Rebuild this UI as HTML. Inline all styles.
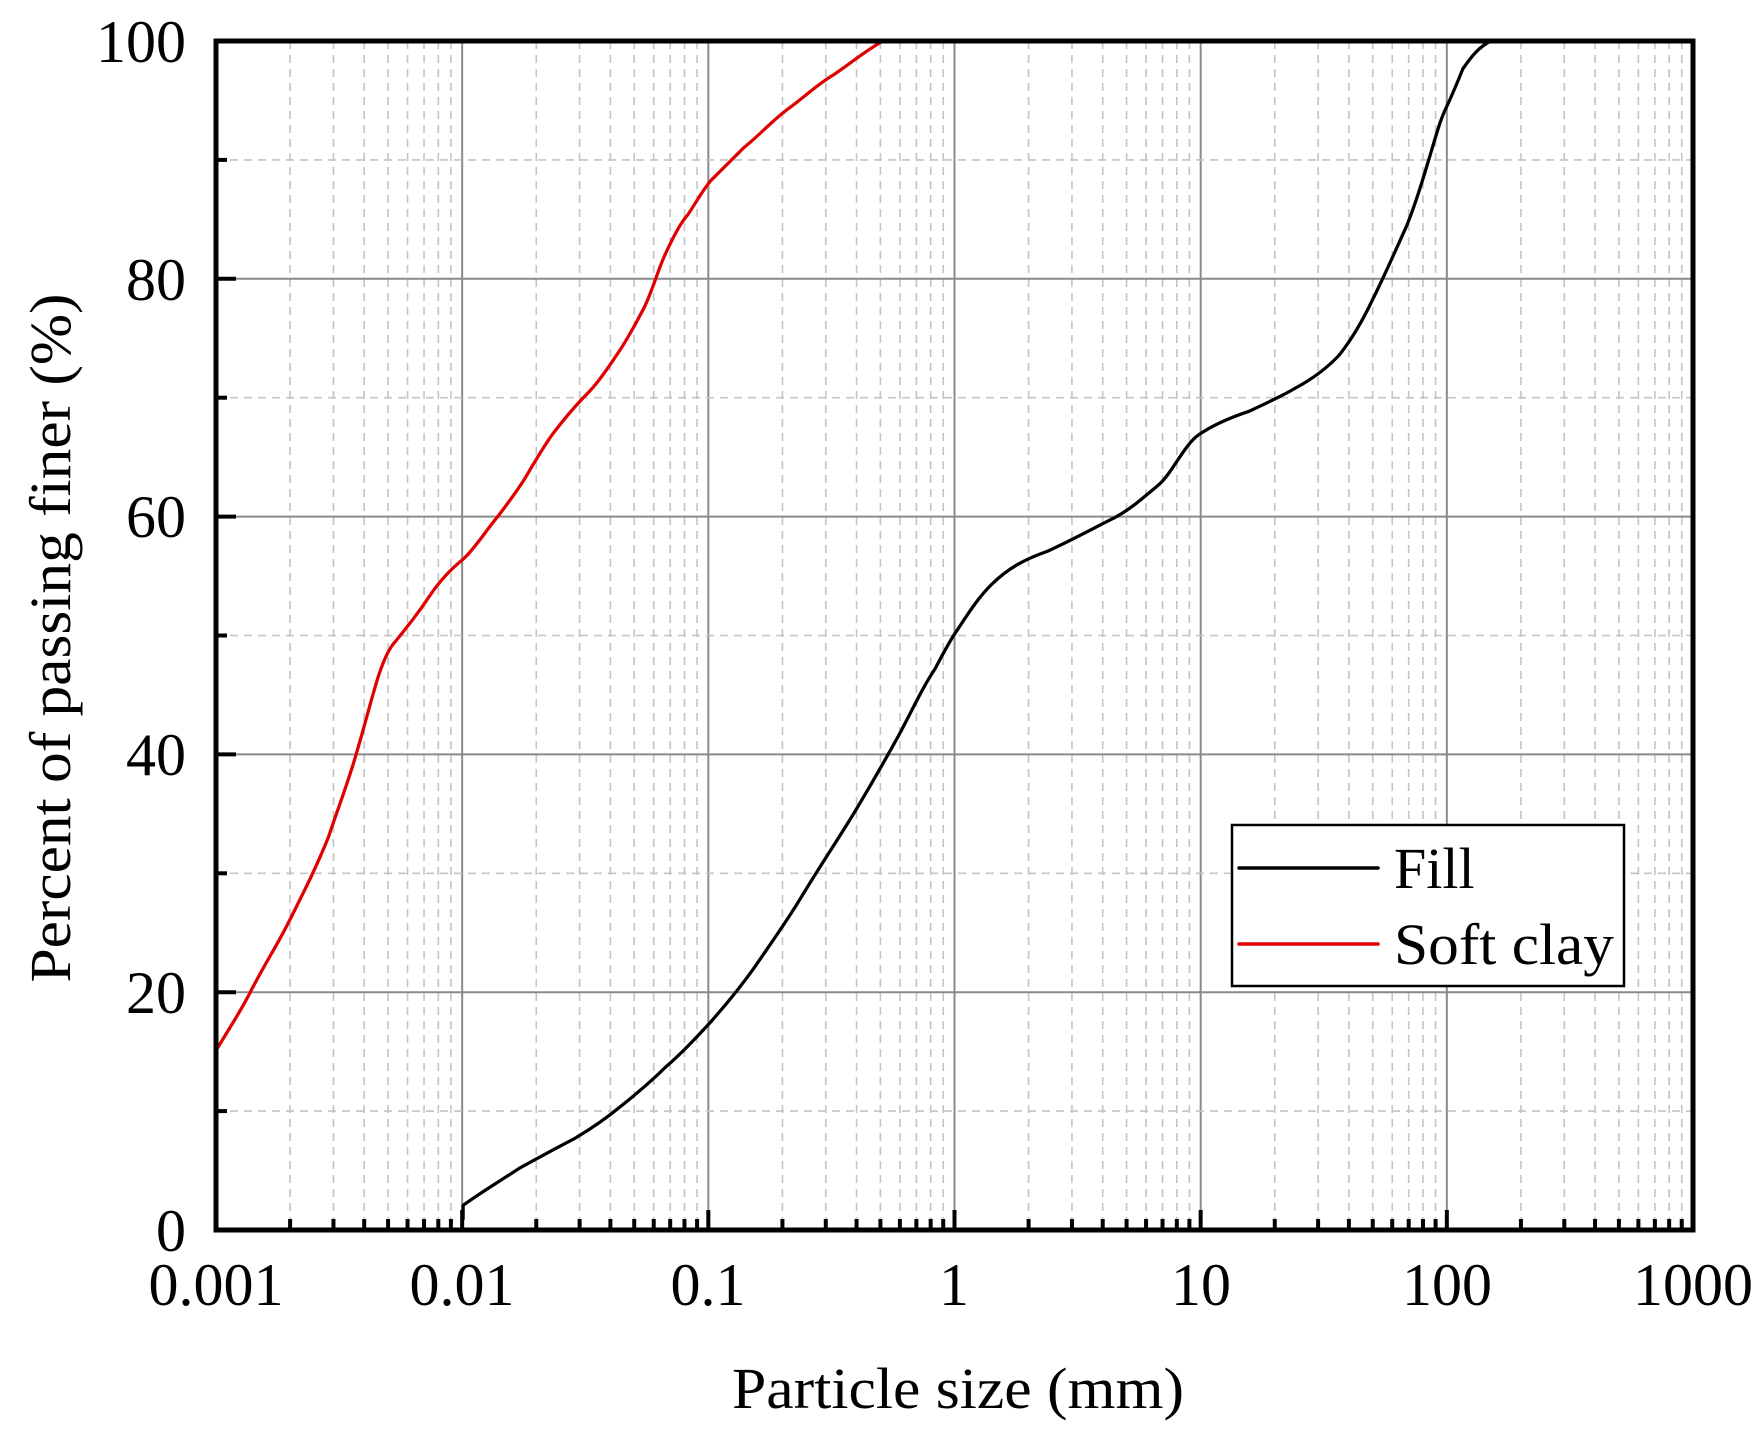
<!DOCTYPE html>
<html><head><style>html,body{margin:0;padding:0;background:#fff}svg{display:block}</style></head>
<body>
<svg width="1763" height="1440" viewBox="0 0 1763 1440" xmlns="http://www.w3.org/2000/svg" font-family="Liberation Serif, serif">
<rect width="1763" height="1440" fill="#fff"/>
<g id="grid"></g>
<g id="ticks"></g>
<g transform="matrix(1.1232 0 0 1.1217 2.6 1.74)" fill="none" stroke-linejoin="round" stroke-linecap="round">
<path stroke="#e00000" stroke-width="2.9" d="M190,935 C205,910 215,895 222,880 C238,850 245,840 255,820 C270,790 280,770 290,745 C300,715 308,695 315,670 C323,643 330,615 335,600 C340,585 345,575 350,570 C362,555 370,545 380,530 C390,515 400,505 410,497 C420,488 430,472 440,460 C450,447 458,436 465,425 C475,408 482,396 490,385 C500,372 510,360 520,350 C530,340 540,325 550,310 C558,298 563,288 570,275 C578,260 583,240 590,225 C597,210 603,198 610,190 C618,178 622,170 630,160 C640,150 650,140 660,130 C675,118 685,106 700,95 C715,84 725,74 740,65 C755,55 765,46 782,36"/>
<path stroke="#000" stroke-width="2.9" d="M410,1085 L410,1073 C428,1060 445,1050 460,1040 C478,1030 493,1022 510,1013 C525,1004 538,995 550,985 C565,973 578,962 590,950 C605,937 617,924 630,910 C645,893 658,877 670,860 C685,838 698,820 710,800 C728,770 745,745 760,720 C775,695 788,672 800,650 C812,627 820,610 830,595 C838,580 843,570 850,560 C860,545 868,532 880,520 C895,505 910,497 930,490 C952,480 970,470 990,460 C1005,452 1018,440 1030,430 C1042,419 1052,395 1065,386 C1078,377 1095,370 1110,365 C1125,358 1138,352 1150,345 C1165,337 1178,328 1190,315 C1202,300 1212,282 1220,265 C1230,245 1240,222 1250,200 C1258,180 1264,160 1270,140 C1276,120 1280,105 1285,95 C1292,80 1296,70 1300,60 C1308,48 1315,40 1325,35"/>
</g>
<rect x="216" y="41" width="1477" height="1189" fill="none" stroke="#000" stroke-width="5"/>
<g font-size="60" text-anchor="end" fill="#000">
<text x="186" y="1251">0</text><text x="186" y="1013">20</text><text x="186" y="775">40</text>
<text x="186" y="537">60</text><text x="186" y="300">80</text><text x="186" y="62">100</text>
</g>
<g font-size="60" text-anchor="middle" fill="#000">
<text x="216" y="1305">0.001</text><text x="462" y="1305">0.01</text><text x="708" y="1305">0.1</text>
<text x="954" y="1305">1</text><text x="1201" y="1305">10</text><text x="1447" y="1305">100</text><text x="1693" y="1305">1000</text>
</g>
<text x="958" y="1408" font-size="58" text-anchor="middle" textLength="452" lengthAdjust="spacingAndGlyphs">Particle size (mm)</text>
<text transform="translate(70,638) rotate(-90)" font-size="58" text-anchor="middle" textLength="689" lengthAdjust="spacingAndGlyphs">Percent of passing finer (%)</text>
<rect x="1232" y="825" width="392" height="161" fill="#fff" stroke="#000" stroke-width="2.5"/>
<line x1="1239" y1="868" x2="1378" y2="868" stroke="#000" stroke-width="3.5" stroke-linecap="round"/>
<line x1="1239" y1="944" x2="1378" y2="944" stroke="#e00000" stroke-width="3.5" stroke-linecap="round"/>
<text x="1394" y="888" font-size="58">Fill</text>
<text x="1394" y="964" font-size="58" textLength="220" lengthAdjust="spacingAndGlyphs">Soft clay</text>
<script>
(function(){
var ns="http://www.w3.org/2000/svg",g=document.getElementById('grid'),t=document.getElementById('ticks');
function ln(p,x1,y1,x2,y2,c,w,d){var l=document.createElementNS(ns,'line');l.setAttribute('x1',x1);l.setAttribute('y1',y1);l.setAttribute('x2',x2);l.setAttribute('y2',y2);l.setAttribute('stroke',c);l.setAttribute('stroke-width',w);if(d)l.setAttribute('stroke-dasharray',d);p.appendChild(l);}
var L=216,R=1693,T=41,B=1230,dw=(R-L)/6,py=(B-T)/100;
for(var k=0;k<6;k++){for(var m=1;m<10;m++){var x=L+dw*(k+Math.log10(m));
 if(m==1){if(k>0){ln(g,x,T,x,B,'#8a8a8a',2);ln(t,x,B,x,B-20,'#000',4);}}
 else{ln(g,x,T,x,B,'#c4c4c4',1.6,'8,6');ln(t,x,B,x,B-11,'#000',4);}}}
for(var v=10;v<100;v+=10){var y=B-v*py;
 if(v%20==0){ln(g,L,y,R,y,'#8a8a8a',2);ln(t,L,y,L+20,y,'#000',4);}
 else{ln(g,L,y,R,y,'#c4c4c4',1.6,'8,6');ln(t,L,y,L+11,y,'#000',4);}}
})();
</script>
</svg>
</body></html>
